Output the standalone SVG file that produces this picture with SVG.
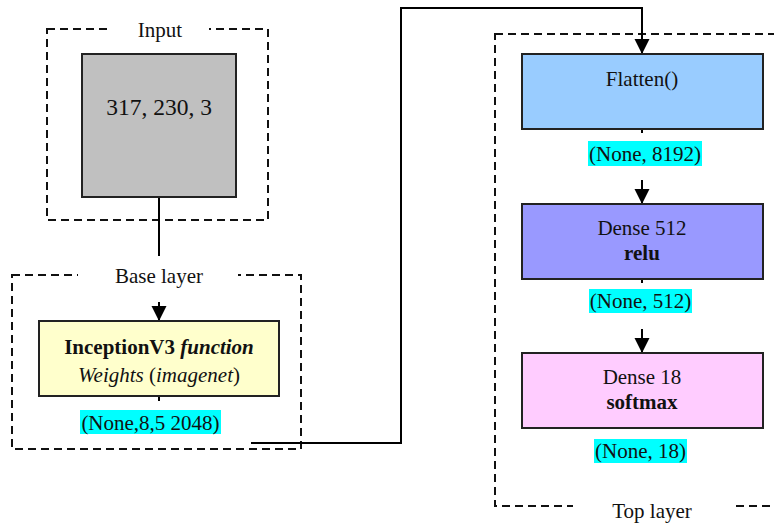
<svg xmlns="http://www.w3.org/2000/svg" width="774" height="524" viewBox="0 0 774 524">
<style>
text{font-family:"Liberation Serif","Times New Roman",serif;font-size:21px;fill:#111;}
.dash{fill:none;stroke:#111;stroke-width:2;stroke-dasharray:8,5;}
.box{stroke:#222;stroke-width:2;}
.wire{fill:none;stroke:#000;stroke-width:2;}
.mask{fill:#fff;}
.shape{fill:#00FFFF;}
.b{font-weight:bold;}
.i{font-style:italic;}
</style>
<defs>
<marker id="ah" markerUnits="userSpaceOnUse" markerWidth="16" markerHeight="16" refX="15" refY="7.5" orient="auto">
<polygon points="0,0 15,7.5 0,15" fill="#000"/>
</marker>
</defs>
<rect width="774" height="524" fill="#fff"/>
<g id="containers">
<rect class="dash" x="47" y="29" width="221" height="191"/>
<rect class="dash" x="12" y="275" width="289" height="174"/>
<rect class="dash" x="495" y="34" width="285" height="472"/>
</g>
<g id="connectors">
<line class="wire" x1="159" y1="197" x2="159" y2="321" marker-end="url(#ah)"/>
<line class="wire" x1="159" y1="396" x2="159" y2="401"/>
<polyline class="wire" points="251,443 401,443 401,8 642,8 642,54" marker-end="url(#ah)"/>
<line class="wire" x1="642" y1="129" x2="642" y2="204" marker-end="url(#ah)"/>
<line class="wire" x1="642" y1="279" x2="642" y2="353" marker-end="url(#ah)"/>
</g>
<g id="input">
<rect class="box" x="82" y="54" width="154" height="143" fill="#C0C0C0"/>
<rect class="mask" x="108" y="18" width="101" height="35"/>
<text x="160" y="37" text-anchor="middle">Input</text>
<text x="159" y="115" text-anchor="middle" style="font-size:23.5px">317, 230, 3</text>
</g>
<g id="base-layer">
<rect class="mask" x="78" y="256" width="160" height="46"/>
<text x="159" y="283" text-anchor="middle">Base layer</text>
</g>
<g id="inception">
<rect class="box" x="39" y="321" width="240" height="75" fill="#FFFFCC"/>
<text x="159" y="354" text-anchor="middle"><tspan class="b">InceptionV3 </tspan><tspan class="b i">function</tspan></text>
<text x="159" y="382" text-anchor="middle"><tspan class="i">Weights</tspan> (<tspan class="i">imagenet</tspan>)</text>
</g>
<g id="shape-base">
<rect class="shape" x="80" y="410" width="141" height="24"/>
<text x="150.5" y="430" text-anchor="middle">(None,8,5 2048)</text>
</g>
<g id="flatten">
<rect class="box" x="522" y="54" width="241" height="75" fill="#99CCFF"/>
<text x="642" y="86" text-anchor="middle">Flatten()</text>
</g>
<g id="shape-flatten">
<rect class="mask" x="582" y="133" width="126" height="47"/>
<rect class="shape" x="588" y="141" width="114" height="25"/>
<text x="645" y="161" text-anchor="middle">(None, 8192)</text>
</g>
<g id="dense512">
<rect class="box" x="522" y="204" width="241" height="75" fill="#9999FF"/>
<text x="642" y="235" text-anchor="middle">Dense 512</text>
<text x="642" y="260" text-anchor="middle" class="b">relu</text>
</g>
<g id="shape-dense512">
<rect class="mask" x="583" y="283" width="115" height="46"/>
<rect class="shape" x="589" y="289" width="103" height="24"/>
<text x="640.5" y="308" text-anchor="middle">(None, 512)</text>
</g>
<g id="dense18">
<rect class="box" x="522" y="353" width="241" height="75" fill="#FFCCFF"/>
<text x="642" y="384" text-anchor="middle">Dense 18</text>
<text x="642" y="409" text-anchor="middle" class="b">softmax</text>
</g>
<g id="shape-dense18">
<rect class="shape" x="594" y="439" width="93" height="24"/>
<text x="640.5" y="458" text-anchor="middle">(None, 18)</text>
</g>
<g id="top-layer">
<rect class="mask" x="573" y="496" width="162" height="28"/>
<text x="652" y="518" text-anchor="middle">Top layer</text>
</g>
</svg>
